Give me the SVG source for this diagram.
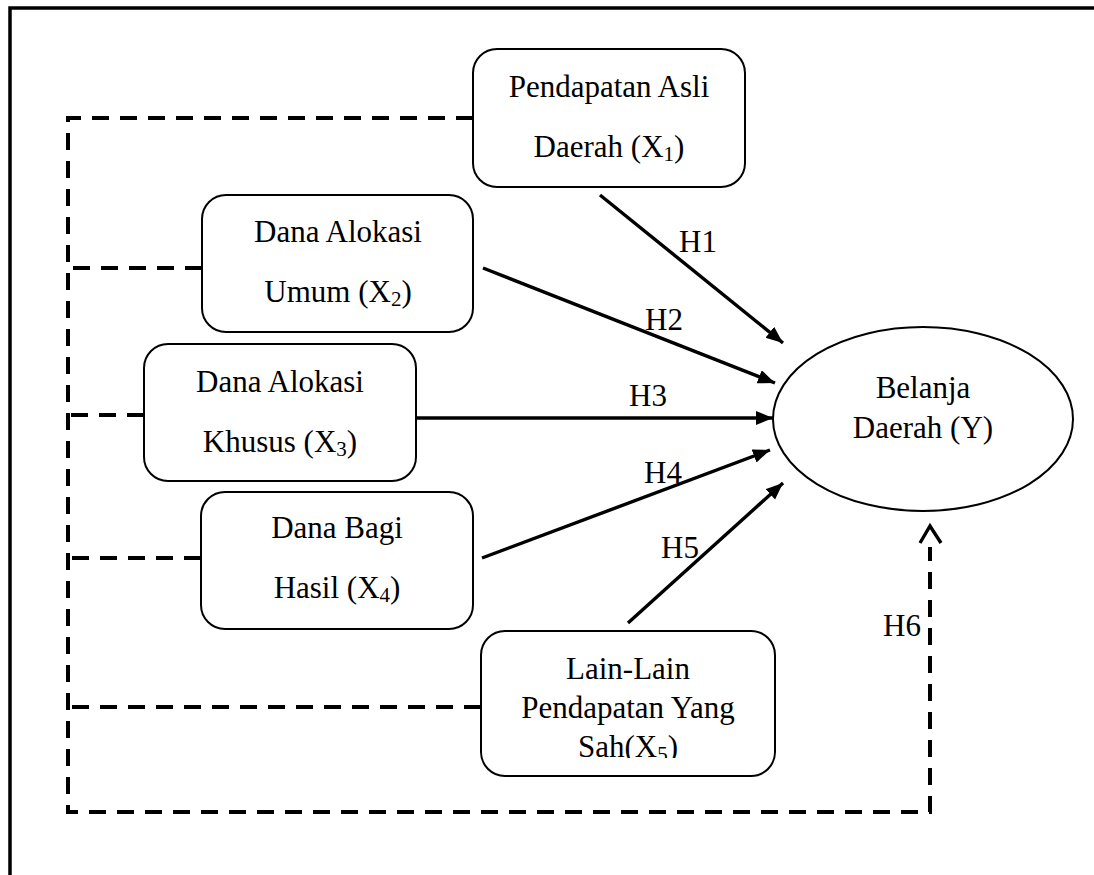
<svg xmlns="http://www.w3.org/2000/svg" width="1094" height="875" viewBox="0 0 1094 875">
<defs>
<style>
text{font-family:"Liberation Serif","Times New Roman",serif;font-size:31px;fill:#000;text-anchor:middle}
.lbl{text-anchor:start}
.node{fill:#fff;stroke:#000;stroke-width:2}
.arr{stroke:#000;stroke-width:3.4;fill:none;marker-end:url(#ah)}
.dash{stroke:#000;stroke-width:4;fill:none;stroke-dasharray:17 11}
.sub{font-size:21px}
</style>
<marker id="ah" markerWidth="18" markerHeight="16" refX="17" refY="7" orient="auto" markerUnits="userSpaceOnUse">
<path d="M0,0 L17,7 L0,14 Z" fill="#000"/>
</marker>
<clipPath id="clipX5"><rect x="481" y="631" width="294" height="127"/></clipPath>
</defs>
<rect x="10" y="8" width="1110" height="900" fill="none" stroke="#000" stroke-width="3.5"/>
<g id="connectors">
<path class="dash" d="M473,118 H68 V812 H930 V547"/>
<path d="M920,543 L930,526 L941,543" fill="none" stroke="#000" stroke-width="3.4"/>
<path class="dash" d="M202,268 H70"/>
<path class="dash" d="M144,415 H70"/>
<path class="dash" d="M201,558 H70"/>
<path class="dash" d="M481,707 H70"/>
<line class="arr" x1="600" y1="195" x2="783" y2="343"/>
<line class="arr" x1="483" y1="268" x2="775" y2="383"/>
<line class="arr" x1="416" y1="418" x2="773" y2="418"/>
<line class="arr" x1="482" y1="558" x2="770" y2="450"/>
<line class="arr" x1="628" y1="623" x2="783" y2="483"/>
<text class="lbl" x="679" y="252">H1</text>
<text class="lbl" x="645" y="330">H2</text>
<text class="lbl" x="629" y="406">H3</text>
<text class="lbl" x="644" y="483">H4</text>
<text class="lbl" x="661" y="558">H5</text>
<text class="lbl" x="883" y="636">H6</text>
</g>
<g id="x1">
<rect class="node" x="473" y="49" width="272" height="138" rx="24"/>
<text x="609" y="97">Pendapatan Asli</text>
<text x="609" y="157">Daerah (X<tspan class="sub" dy="4">1</tspan><tspan dy="-4">)</tspan></text>
</g>
<g id="x2">
<rect class="node" x="202" y="195" width="271" height="137" rx="24"/>
<text x="338" y="242">Dana Alokasi</text>
<text x="338" y="302">Umum (X<tspan class="sub" dy="4">2</tspan><tspan dy="-4">)</tspan></text>
</g>
<g id="x3">
<rect class="node" x="144" y="344" width="272" height="137" rx="24"/>
<text x="280" y="392">Dana Alokasi</text>
<text x="280" y="452">Khusus (X<tspan class="sub" dy="4">3</tspan><tspan dy="-4">)</tspan></text>
</g>
<g id="x4">
<rect class="node" x="201" y="492" width="272" height="137" rx="24"/>
<text x="337" y="538">Dana Bagi</text>
<text x="337" y="598">Hasil (X<tspan class="sub" dy="4">4</tspan><tspan dy="-4">)</tspan></text>
</g>
<g id="x5">
<rect class="node" x="481" y="631" width="294" height="145" rx="24"/>
<text x="628" y="679">Lain-Lain</text>
<text x="628" y="718">Pendapatan Yang</text>
<text x="628" y="757" clip-path="url(#clipX5)">Sah(X<tspan class="sub" dy="4">5</tspan><tspan dy="-4">)</tspan></text>
</g>
<g id="y">
<ellipse class="node" cx="923" cy="419" rx="150" ry="92"/>
<text x="923" y="398">Belanja</text>
<text x="923" y="438">Daerah (Y)</text>
</g>
</svg>
